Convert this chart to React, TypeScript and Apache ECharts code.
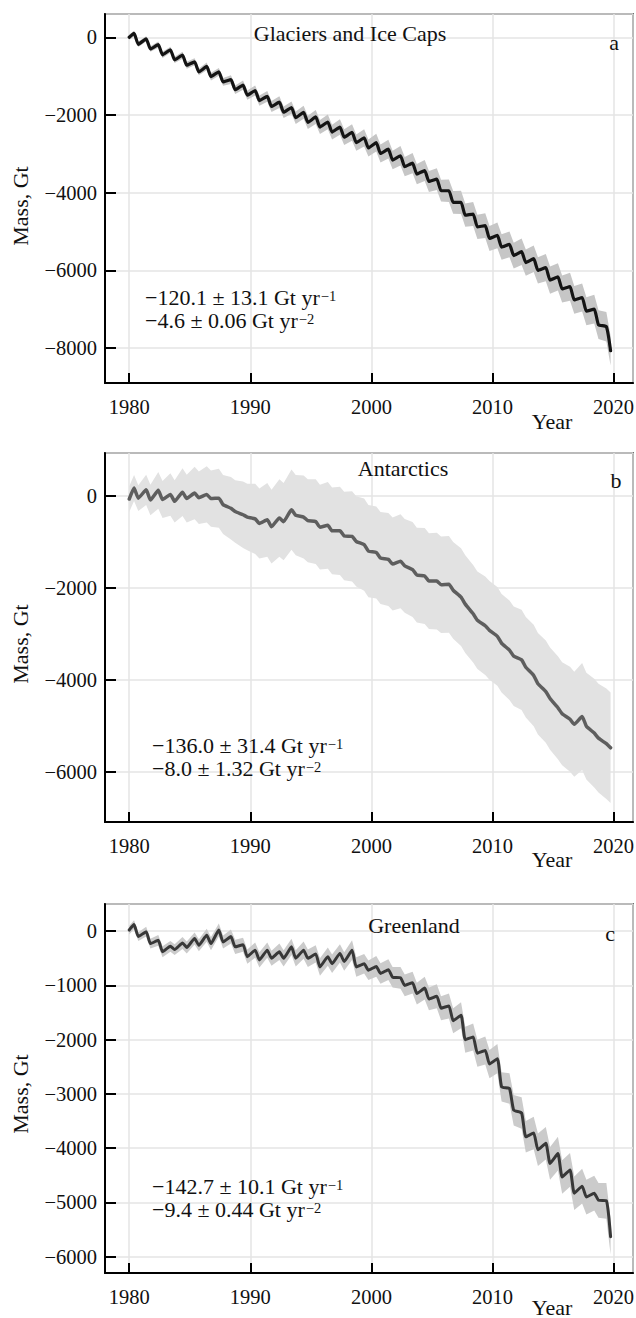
import React, { useEffect, useRef } from 'react';
import * as echarts from 'echarts';

// ---------- data ----------
const YEARS = [
  1980, 1981, 1982, 1983, 1984, 1985, 1986, 1987, 1988, 1989,
  1990, 1991, 1992, 1993, 1994, 1995, 1996, 1997, 1998, 1999,
  2000, 2001, 2002, 2003, 2004, 2005, 2006, 2007, 2008, 2009,
  2010, 2011, 2012, 2013, 2014, 2015, 2016, 2017, 2018, 2019,
];
// within-year timing of the seasonal maximum and minimum
const PEAK_PHASE = 0.4;
const TROUGH_PHASE = 0.75;

// (a) Glaciers and Ice Caps, Gt
const GLA_START = 0;
const GLA_PEAK = [
  100, -40, -190, -320, -460, -630, -750, -890, -1090, -1230,
  -1370, -1520, -1670, -1810, -1930, -2050, -2180, -2310, -2450, -2590,
  -2710, -2880, -3050, -3240, -3430, -3650, -3950, -4250, -4550, -4850,
  -5100, -5330, -5520, -5700, -5930, -6170, -6420, -6700, -7000, -7450,
];
const GLA_TROUGH = [
  -180, -300, -450, -580, -720, -890, -1010, -1150, -1350, -1490,
  -1630, -1780, -1930, -2070, -2190, -2310, -2440, -2570, -2710, -2850,
  -2990, -3160, -3330, -3520, -3710, -3950, -4250, -4580, -4880, -5180,
  -5400, -5620, -5800, -6000, -6250, -6480, -6760, -7050, -7400, -8070,
];
const GLA_ERR = [
  70, 70, 80, 80, 90, 90, 100, 100, 110, 120,
  130, 140, 150, 160, 170, 180, 190, 200, 210, 220,
  230, 240, 250, 260, 270, 280, 290, 300, 310, 320,
  330, 330, 340, 340, 350, 350, 360, 360, 370, 380,
];

// (b) Antarctics, Gt
const ANT_START = -70;
const ANT_PEAK = [
  170, 130, 120, 30, 80, 60, 30, -50, -270, -410,
  -500, -520, -480, -300, -460, -560, -640, -760, -880, -1060,
  -1230, -1380, -1420, -1600, -1740, -1850, -1920, -2200, -2560, -2820,
  -3050, -3350, -3560, -3900, -4250, -4600, -4850, -4790, -5150, -5380,
];
const ANT_TROUGH = [
  -50, -90, -80, -120, -60, -40, -60, -190, -340, -460,
  -600, -670, -560, -420, -540, -680, -760, -870, -990, -1200,
  -1350, -1480, -1520, -1720, -1850, -1930, -2050, -2350, -2700, -2920,
  -3200, -3480, -3720, -4080, -4400, -4730, -4960, -5000, -5260, -5470,
];
const ANT_ERR = [
  280, 330, 400, 460, 520, 570, 610, 640, 680, 720,
  760, 800, 840, 870, 900, 920, 940, 960, 980, 1000,
  1000, 1010, 1020, 1030, 1040, 1050, 1050, 1060, 1060, 1070,
  1070, 1080, 1090, 1100, 1110, 1120, 1140, 1160, 1180, 1200,
];

// (c) Greenland, Gt
const GRE_START = 20;
const GRE_PEAK = [
  120, -10, -170, -280, -220, -135, -75, 20, -100, -250,
  -350, -350, -380, -290, -350, -420, -470, -410, -350, -600,
  -650, -710, -860, -950, -1050, -1200, -1380, -1550, -1950, -2200,
  -2350, -2900, -3350, -3720, -3910, -4100, -4400, -4700, -4830, -4970,
];
const GRE_TROUGH = [
  -100, -230, -380, -340, -300, -260, -230, -200, -290, -470,
  -530, -500, -500, -500, -500, -660, -600, -560, -660, -720,
  -780, -850, -1000, -1150, -1250, -1420, -1650, -2000, -2250, -2450,
  -2870, -3300, -3790, -4030, -4280, -4530, -4830, -4900, -4960, -5630,
];
const GRE_ERR = [
  80, 90, 100, 100, 110, 110, 120, 120, 130, 130,
  140, 140, 150, 150, 160, 160, 170, 170, 180, 180,
  190, 190, 200, 200, 210, 220, 230, 240, 250, 260,
  270, 280, 290, 300, 300, 310, 310, 320, 320, 330,
];

const X_TICK_LABELS = ['1980', '1990', '2000', '2010', '2020'];

const TITLES = ['Glaciers and Ice Caps', 'Antarctics', 'Greenland'];
const LETTERS = ['a', 'b', 'c'];
const RATE_TEXT = [
  ['\u2212120.1 \u00b1 13.1 Gt yr', '\u22124.6 \u00b1 0.06 Gt yr'],
  ['\u2212136.0 \u00b1 31.4 Gt yr', '\u22128.0 \u00b1 1.32 Gt yr'],
  ['\u2212142.7 \u00b1 10.1 Gt yr', '\u22129.4 \u00b1 0.44 Gt yr'],
];

// ---------- layout / style ----------
const FONT = '"Liberation Serif", "DejaVu Serif", "Times New Roman", serif';
const TICK_FS = 20.5;
const TEXT_FS = 22;
const GRID_LEFT = 105;
const GRID_WIDTH = 528;
const GRID_HEIGHT = 369;

const PANELS = [
  {
    top: 14, yMin: -8900, yMax: 600, step: 2000,
    start: GLA_START, peaks: GLA_PEAK, troughs: GLA_TROUGH, err: GLA_ERR,
    line: '#141414', band: '#c6c6c6', lw: 3.2,
    title: { x: 350, y: 33 }, letter: { x: 614, y: 42 }, note: { x: 145, y: 298 },
    yearY: 421, yearAlign: 'middle', massY: 206,
  },
  {
    top: 453, yMin: -7080, yMax: 930, step: 2000,
    start: ANT_START, peaks: ANT_PEAK, troughs: ANT_TROUGH, err: ANT_ERR,
    line: '#5e5e5e', band: '#e2e2e2', lw: 3.5,
    title: { x: 403, y: 468 }, letter: { x: 616, y: 480 }, note: { x: 152, y: 746 },
    yearY: 859, yearAlign: 'middle', massY: 644,
  },
  {
    top: 904, yMin: -6300, yMax: 500, step: 1000,
    start: GRE_START, peaks: GRE_PEAK, troughs: GRE_TROUGH, err: GRE_ERR,
    line: '#383838', band: '#cbcbcb', lw: 3,
    title: { x: 414, y: 925 }, letter: { x: 610, y: 933 }, note: { x: 152, y: 1187 },
    yearY: 1318, yearAlign: 'bottom', massY: 1094,
  },
];

function buildSeries(start: number, peaks: number[], troughs: number[], err: number[]) {
  const line: number[][] = [[YEARS[0], start]];
  const upper: number[][] = [[YEARS[0], start + err[0]]];
  const lower: number[][] = [[YEARS[0], start - err[0]]];
  YEARS.forEach((yr, i) => {
    const tp = yr + PEAK_PHASE;
    const tt = yr + TROUGH_PHASE;
    line.push([tp, peaks[i]], [tt, troughs[i]]);
    upper.push([tp, peaks[i] + err[i]], [tt, troughs[i] + err[i]]);
    lower.push([tp, peaks[i] - err[i]], [tt, troughs[i] - err[i]]);
  });
  return { line, upper, lower };
}

const minus = (v: number) => String(v).replace('-', '\u2212');

function buildOption() {
  const grid: any[] = [];
  const xAxis: any[] = [];
  const yAxis: any[] = [];
  const series: any[] = [];
  const graphic: any[] = [];

  PANELS.forEach((p, i) => {
    grid.push({
      left: GRID_LEFT, top: p.top, width: GRID_WIDTH, height: GRID_HEIGHT,
      show: true, borderColor: '#000', borderWidth: 1.5, backgroundColor: 'transparent',
      containLabel: false, outerBoundsMode: 'none',
    });
    xAxis.push({
      gridIndex: i, type: 'value', min: 1978, max: 2021.6, minInterval: 10, maxInterval: 10,
      axisLine: { show: true, onZero: false, lineStyle: { color: '#000', width: 2 } },
      axisTick: { show: true, inside: true, length: 10, lineStyle: { color: '#000', width: 2 } },
      axisLabel: {
        show: true, fontSize: TICK_FS, fontFamily: FONT, color: '#111', margin: 13,
        showMinLabel: false, showMaxLabel: false,
        formatter: (v: number) => (X_TICK_LABELS.includes(String(v)) ? String(v) : ''),
      },
      splitLine: { show: true, lineStyle: { color: '#e4e4e4', width: 1.5 } },
    });
    yAxis.push({
      gridIndex: i, type: 'value', min: p.yMin, max: p.yMax, minInterval: p.step, maxInterval: p.step,
      axisLine: { show: true, onZero: false, lineStyle: { color: '#000', width: 2 } },
      axisTick: { show: true, inside: true, length: 11, lineStyle: { color: '#000', width: 2 } },
      axisLabel: {
        show: true, fontSize: TICK_FS, fontFamily: FONT, color: '#111', margin: 8,
        showMinLabel: false, showMaxLabel: false,
        formatter: (v: number) => (v % p.step === 0 ? minus(v) : ''),
      },
      splitLine: { show: true, lineStyle: { color: '#e4e4e4', width: 1.5 } },
    });

    const s = buildSeries(p.start, p.peaks, p.troughs, p.err);
    series.push({
      type: 'custom', xAxisIndex: i, yAxisIndex: i, silent: true, z: 1,
      data: [[1990, 0]],
      renderItem: (_params: any, api: any) => {
        const pts = [
          ...s.upper.map((d) => api.coord(d)),
          ...s.lower.slice().reverse().map((d) => api.coord(d)),
        ];
        return { type: 'polygon', shape: { points: pts }, style: { fill: p.band } };
      },
    });
    series.push({
      type: 'line', xAxisIndex: i, yAxisIndex: i, z: 3, data: s.line,
      showSymbol: false, symbol: 'none', smooth: 0.15,
      lineStyle: { color: p.line, width: p.lw, cap: 'round', join: 'round' },
      silent: true,
    });

    const txt = { fill: '#111', fontFamily: FONT, fontSize: TEXT_FS };
    graphic.push({
      type: 'text', x: p.title.x, y: p.title.y, z: 10,
      style: { ...txt, text: TITLES[i], align: 'center', verticalAlign: 'middle' },
    });
    graphic.push({
      type: 'text', x: p.letter.x, y: p.letter.y, z: 10,
      style: { ...txt, text: LETTERS[i], align: 'center', verticalAlign: 'middle' },
    });
    graphic.push({
      type: 'text', x: 552, y: p.yearY, z: 10,
      style: { ...txt, text: 'Year', align: 'center', verticalAlign: p.yearAlign },
    });
    graphic.push({
      type: 'text', x: 20, y: p.massY, rotation: Math.PI / 2, z: 10,
      style: { ...txt, text: 'Mass, Gt', align: 'center', verticalAlign: 'middle' },
    });
    ['\u22121', '\u22122'].forEach((sup, k) => {
      graphic.push({
        type: 'text', x: p.note.x, y: p.note.y + k * 23, z: 10,
        style: {
          text: `{m|${RATE_TEXT[i][k]}}{s|${sup}}`,
          align: 'left', verticalAlign: 'middle',
          rich: {
            m: { fontSize: TEXT_FS, fontFamily: FONT, fill: '#111', lineHeight: 20, verticalAlign: 'bottom' },
            s: {
              fontSize: 14.5, fontFamily: FONT, fill: '#111', lineHeight: 12,
              verticalAlign: 'top', padding: [0, 0, 11, 1],
            },
          },
        },
      });
    });
  });

  return { animation: false, backgroundColor: '#fff', grid, xAxis, yAxis, series, graphic };
}

export default function App() {
  const ref = useRef<HTMLDivElement>(null);
  useEffect(() => {
    if (!ref.current) return;
    const chart = echarts.init(ref.current, undefined, { renderer: 'svg' });
    chart.setOption(buildOption() as any);
    return () => chart.dispose();
  }, []);
  return (
    <div
      ref={ref}
      style={{ position: 'absolute', left: 0, top: 0, width: 636, height: 1318, background: '#fff' }}
    />
  );
}
